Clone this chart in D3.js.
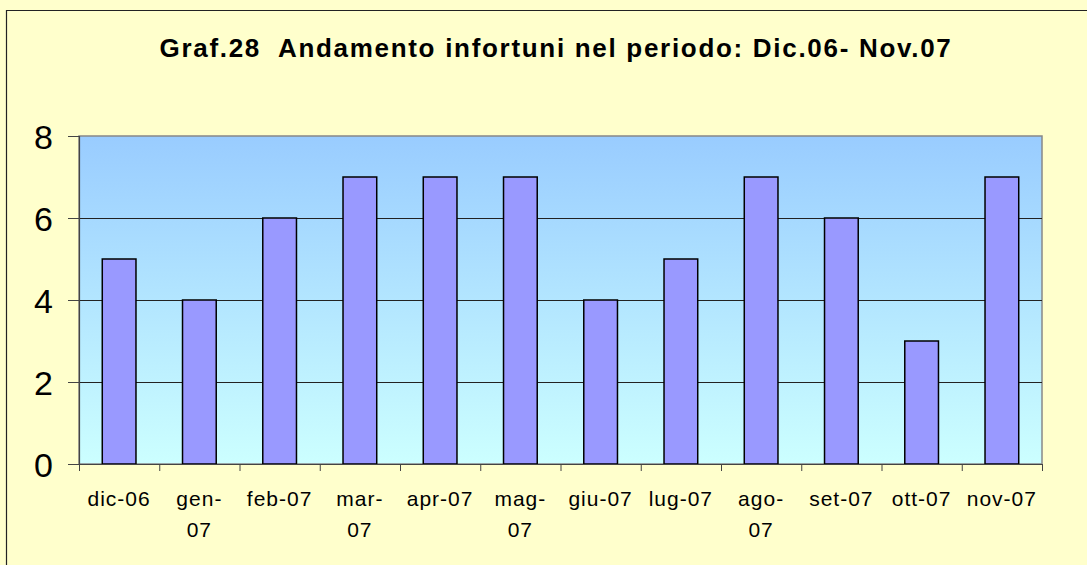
<!DOCTYPE html>
<html>
<head>
<meta charset="utf-8">
<script src="https://cdnjs.cloudflare.com/ajax/libs/d3/7.8.5/d3.min.js"></script>
<style>
  html, body { margin: 0; padding: 0; background: #FFFFCC; }
  svg { display: block; }
</style>
</head>
<body>
<svg id="chart" width="1087" height="565"></svg>
<script>
// data
const months = ['dic-06', 'gen-07', 'feb-07', 'mar-07', 'apr-07', 'mag-07',
                'giu-07', 'lug-07', 'ago-07', 'set-07', 'ott-07', 'nov-07'];
// how each label wraps under its bar
const monthLabels = [['dic-06'], ['gen-', '07'], ['feb-07'], ['mar-', '07'], ['apr-07'], ['mag-', '07'],
                     ['giu-07'], ['lug-07'], ['ago-', '07'], ['set-07'], ['ott-07'], ['nov-07']];
const injuries = [5, 4, 6, 7, 7, 7, 4, 5, 7, 6, 3, 7];
const yTicks = [0, 2, 4, 6, 8];
const title = 'Graf.28  Andamento infortuni nel periodo: Dic.06- Nov.07';

const svg = d3.select('#chart');
const W = 1087, H = 565;
const plot = { left: 79, top: 136, right: 1042, bottom: 464 };
const font = 'Liberation Sans, Arial, sans-serif';

// background and outer frame (right/bottom edges fall outside the picture)
svg.append('rect').attr('width', W).attr('height', H).attr('fill', '#FFFFCC');
svg.append('path')
    .attr('d', `M6.5,${H + 5} V10.5 H${W + 5}`)
    .attr('fill', 'none').attr('stroke', '#222').attr('stroke-width', 1.2);

// title (keep the double space)
svg.append('text')
    .attr('x', 556).attr('y', 57)
    .attr('text-anchor', 'middle')
    .attr('font-family', font)
    .attr('font-weight', 'bold')
    .attr('font-size', 26)
    .attr('letter-spacing', 1.7)
    .style('white-space', 'pre')
    .text(title);

const x = d3.scaleBand().domain(months).range([plot.left, plot.right]).paddingInner(0.58).paddingOuter(0.29);
const xb = d3.scaleBand().domain(months).range([plot.left, plot.right]);
const y = d3.scaleLinear().domain([0, 8]).range([plot.bottom, plot.top]);

// plot area gradient
const grad = svg.append('defs').append('linearGradient')
    .attr('id', 'bg').attr('x1', 0).attr('y1', 0).attr('x2', 0).attr('y2', 1);
grad.append('stop').attr('offset', '0%').attr('stop-color', '#99CCFF');
grad.append('stop').attr('offset', '100%').attr('stop-color', '#CCFFFF');

svg.append('rect')
    .attr('x', plot.left).attr('y', plot.top)
    .attr('width', plot.right - plot.left).attr('height', plot.bottom - plot.top)
    .attr('fill', 'url(#bg)')
    .attr('stroke', '#888').attr('stroke-width', 1.5);

// gridlines
svg.append('g').selectAll('line')
    .data(yTicks.filter(d => d > 0 && d < 8))
    .join('line')
    .attr('x1', plot.left).attr('x2', plot.right)
    .attr('y1', d => y(d) + 0.5).attr('y2', d => y(d) + 0.5)
    .attr('stroke', '#222').attr('stroke-width', 1);

// bars
svg.append('g').selectAll('rect')
    .data(injuries)
    .join('rect')
    .attr('x', (d, i) => x(months[i]))
    .attr('width', x.bandwidth())
    .attr('y', d => y(d))
    .attr('height', d => y(0) - y(d))
    .attr('fill', '#9999FF')
    .attr('stroke', '#000')
    .attr('stroke-width', 1.5);

// y axis
const yAxis = svg.append('g')
    .attr('transform', `translate(${plot.left},0)`)
    .call(d3.axisLeft(y).tickValues(yTicks).tickSize(11).tickPadding(15));
yAxis.select('.domain').attr('stroke', '#444').attr('stroke-width', 1.2);
yAxis.selectAll('.tick line').attr('stroke', '#444');
yAxis.selectAll('.tick text')
    .attr('font-family', font)
    .attr('font-size', 34)
    .attr('fill', '#000')
    .attr('dy', '0.36em');

// x axis: ticks at category boundaries
const bottom = svg.append('g');
bottom.append('line')
    .attr('x1', plot.left - 11).attr('x2', plot.right)
    .attr('y1', plot.bottom + 0.5).attr('y2', plot.bottom + 0.5)
    .attr('stroke', '#444').attr('stroke-width', 1.2);
bottom.selectAll('line.tk')
    .data(months.map(m => xb(m)).concat([plot.right]))
    .join('line')
    .attr('class', 'tk')
    .attr('x1', d => d + 0.5).attr('x2', d => d + 0.5)
    .attr('y1', plot.bottom).attr('y2', plot.bottom + 7)
    .attr('stroke', '#444');

const labels = bottom.selectAll('text.lbl')
    .data(monthLabels)
    .join('text')
    .attr('class', 'lbl')
    .attr('text-anchor', 'middle')
    .attr('font-family', font)
    .attr('font-size', 21)
    .attr('letter-spacing', 1)
    .attr('fill', '#000');
labels.selectAll('tspan')
    .data((d, i) => d.map(t => ({ t, i })))
    .join('tspan')
    .attr('x', d => xb(months[d.i]) + xb.bandwidth() / 2)
    .attr('y', (d, j) => 506 + j * 31)
    .text(d => d.t);
</script>
</body>
</html>
